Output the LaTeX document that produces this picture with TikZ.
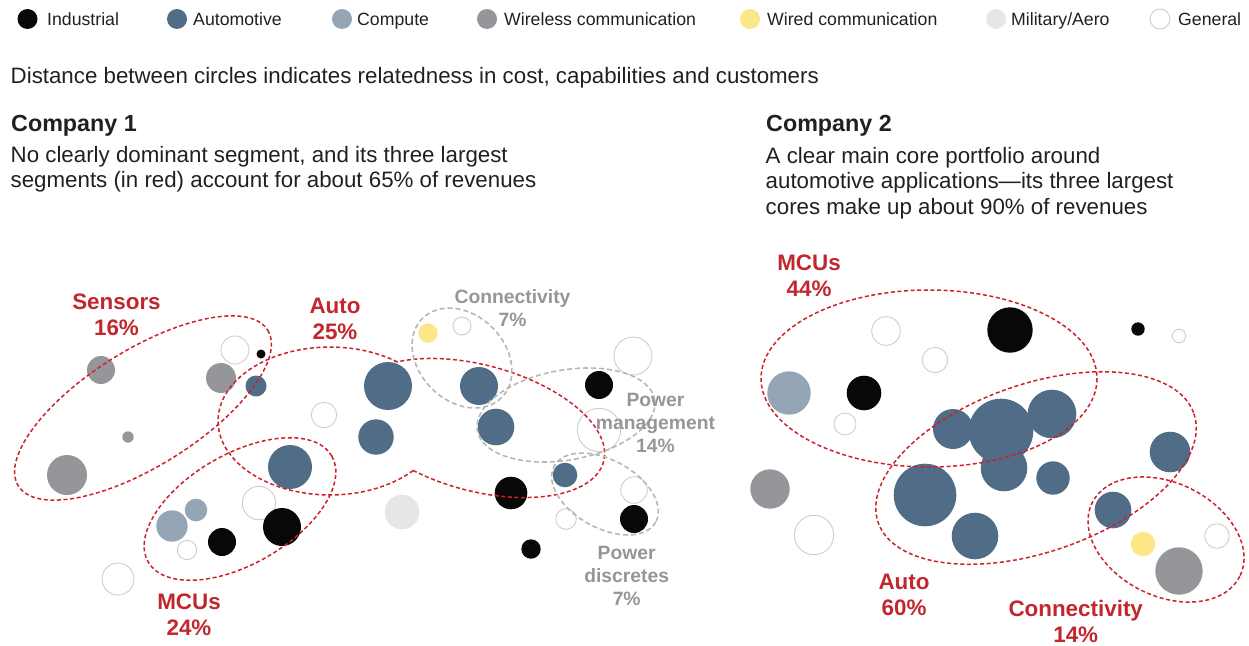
\documentclass[tikz,border=0pt]{standalone}
\usepackage{fontspec}
\setmainfont{Liberation Sans}
\usepackage{tikz}
\definecolor{industrialblack}{RGB}{8, 8, 8}
\definecolor{autoblue}{RGB}{81, 108, 134}
\definecolor{computeblue}{RGB}{148, 166, 182}
\definecolor{wirelessgray}{RGB}{149, 150, 154}
\definecolor{wiredyellow}{RGB}{252, 231, 136}
\definecolor{militarygray}{RGB}{229, 230, 232}
\definecolor{generalring}{RGB}{205, 205, 205}
\definecolor{corered}{RGB}{206, 32, 44}
\definecolor{labelred}{RGB}{193, 39, 45}
\definecolor{labelgray}{RGB}{150, 150, 152}
\definecolor{ringgray}{RGB}{182, 182, 182}
\definecolor{textdark}{RGB}{35, 31, 32}
\tikzstyle{redring} = [
    draw=corered,
    line width=1.5pt,
    dash pattern=on 4pt off 2.6pt
]
\tikzstyle{grayring} = [
    draw=ringgray,
    line width=1.6pt,
    dash pattern=on 5pt off 3pt
]
\tikzstyle{general} = [fill=white, draw=generalring, line width=0.9pt]
\tikzstyle{redlabel} = [text=labelred, font=\fontsize{22.4}{26}\selectfont\bfseries, align=center]
\tikzstyle{graylabel} = [text=labelgray, font=\fontsize{19.3}{23}\selectfont\bfseries, align=center]
\tikzstyle{legendtext} = [text=textdark, font=\fontsize{17.7}{21}\selectfont, anchor=base west, inner sep=0pt]
\tikzstyle{bodytext} = [text=textdark, font=\fontsize{22.3}{25.5}\selectfont, inner sep=0pt]
\tikzstyle{titletext} = [text=textdark, font=\fontsize{23.3}{26}\selectfont\bfseries, anchor=base west, inner sep=0pt]

\begin{document}
\begin{tikzpicture}[x=1pt, y=-1pt]
        \useasboundingbox (0,0) rectangle (1249,645);

        % Legend
        \fill[industrialblack] (27.5,19) circle (10);
        \node[legendtext] (lgind) at (47,25) {Industrial};
        \fill[autoblue] (177,19) circle (10);
        \node[legendtext] (lgauto) at (193,25) {Automotive};
        \fill[computeblue] (342,19) circle (10);
        \node[legendtext] (lgcomp) at (357,25) {Compute};
        \fill[wirelessgray] (487,19) circle (10);
        \node[legendtext] (lgwless) at (504,25) {Wireless communication};
        \fill[wiredyellow] (750,19) circle (10);
        \node[legendtext] (lgwired) at (767,25) {Wired communication};
        \fill[militarygray] (996,19) circle (10);
        \node[legendtext] (lgmil) at (1011,25) {Military/Aero};
        \draw[general] (1160,19) circle (10);
        \node[legendtext] (lggen) at (1178,25) {General};

        % Headings
        \node[bodytext, anchor=base west] (intro) at (10.5,83)
            {Distance between circles indicates relatedness in cost, capabilities and customers};
        \node[titletext] (co1) at (11,131.7) {Company 1};
        \node[bodytext, anchor=north west, align=left] (co1text) at (10.5,146)
            {No clearly dominant segment, and its three largest\\segments (in red) account for about 65\% of revenues};
        \node[titletext] (co2) at (766,131.7) {Company 2};
        \node[bodytext, anchor=north west, align=left] (co2text) at (765.5,147)
            {A clear main core portfolio around\\automotive applications---its three largest\\cores make up about 90\% of revenues};

        % Company 1: general
        \draw[general] (235,350) circle (14);
        \draw[general] (324,415) circle (12.7);
        \draw[general] (259,503) circle (16.7);
        \draw[general] (187,550) circle (9.7);
        \draw[general] (118,579) circle (16);
        \draw[general] (462,326) circle (9);
        \draw[general] (633,356) circle (19);
        \draw[general] (599,430) circle (21.7);
        \draw[general] (634,490) circle (13.3);
        \draw[general] (566,519) circle (10.3);

        % Company 1: wireless, wired, military
        \fill[wirelessgray] (101,370) circle (14);
        \fill[wirelessgray] (128,437) circle (5.7);
        \fill[wirelessgray] (67,475) circle (20);
        \fill[wirelessgray] (221,378) circle (15);
        \fill[wiredyellow] (428,333) circle (9.7);
        \fill[militarygray] (402,512) circle (17.3);

        % Company 1: compute
        \fill[computeblue] (196,510) circle (11.3);
        \fill[computeblue] (172,526) circle (15.7);

        % Company 1: industrial
        \fill[industrialblack] (261,354) circle (4.5);
        \fill[industrialblack] (282,527) circle (19);
        \fill[industrialblack] (222,542) circle (14);
        \fill[industrialblack] (599,385) circle (14);
        \fill[industrialblack] (511,493) circle (16.3);
        \fill[industrialblack] (634,519) circle (14);
        \fill[industrialblack] (531,549) circle (9.7);

        % Company 1: automotive
        \fill[autoblue] (256,386) circle (10.5);
        \fill[autoblue] (388,386) circle (24);
        \fill[autoblue] (376,437) circle (17.7);
        \fill[autoblue] (290,467) circle (22);
        \fill[autoblue] (479,386) circle (19);
        \fill[autoblue] (496,427) circle (18.3);
        \fill[autoblue] (565,475) circle (12.3);

        % Company 1: cores
        \draw[redring] (143,408) circle [x radius=147, y radius=58, rotate=32];
        \draw[redring] (240,509) circle [x radius=106, y radius=55, rotate=30];
        \draw[redring] plot[domain=53:318, samples=60] ({330+112*cos(\x)}, {421-74*sin(\x)})
            -- plot[domain=-114:137, samples=80]
               ({478+130*cos(\x)*0.966+63*sin(\x)*0.259}, {428+130*cos(\x)*0.259-63*sin(\x)*0.966})
            -- cycle;
        \draw[grayring] (462,358) circle [x radius=56, y radius=43, rotate=-45];
        \draw[grayring] (566,415) circle [x radius=90, y radius=45, rotate=10];
        \draw[grayring] (605,494) circle [x radius=58, y radius=34, rotate=-29];

        % Company 1: labels
        \node[redlabel] (sensorslbl) at (116.5,315) {Sensors\\16\%};
        \node[redlabel] (autolbl) at (335,318.5) {Auto\\25\%};
        \node[redlabel] (mcuslbl) at (189,615) {MCUs\\24\%};
        \node[graylabel] (connlbl) at (512.5,308) {Connectivity\\7\%};
        \node[graylabel] (powmglbl) at (655.5,422.5) {Power\\management\\14\%};
        \node[graylabel] (powdislbl) at (626.7,576) {Power\\discretes\\7\%};

        % Company 2: general
        \draw[general] (886,331) circle (14.3);
        \draw[general] (935,360) circle (12.7);
        \draw[general] (845,424) circle (11);
        \draw[general] (1179,336) circle (6.7);
        \draw[general] (1217,536) circle (12.3);
        \draw[general] (814,535) circle (19.7);

        % Company 2: other segments
        \fill[computeblue] (789,393) circle (21.7);
        \fill[industrialblack] (864,393) circle (17.3);
        \fill[industrialblack] (1010,330) circle (22.7);
        \fill[industrialblack] (1138,329) circle (6.7);
        \fill[wiredyellow] (1143,544) circle (12.3);
        \fill[wirelessgray] (1179,571) circle (23.7);
        \fill[wirelessgray] (770,489) circle (19.7);

        % Company 2: automotive
        \fill[autoblue] (953,429) circle (20);
        \fill[autoblue] (1004,468) circle (23.3);
        \fill[autoblue] (1053,478) circle (16.7);
        \fill[autoblue] (1052,414) circle (24.3);
        \fill[autoblue] (1001,431) circle (32.3);
        \fill[autoblue] (925,495) circle (31.3);
        \fill[autoblue] (975,536) circle (23.3);
        \fill[autoblue] (1170,452) circle (20.3);
        \fill[autoblue] (1113,510) circle (18.3);

        % Company 2: cores
        \draw[redring] (929,378.5) circle [x radius=168, y radius=88.5];
        \draw[redring] (1036,468) circle [x radius=167, y radius=84, rotate=19];
        \draw[redring] (1166,539.5) circle [x radius=82.5, y radius=56.5, rotate=-26.5];

        % Company 2: labels
        \node[redlabel] (mcus2lbl) at (809,276) {MCUs\\44\%};
        \node[redlabel] (auto2lbl) at (904,595) {Auto\\60\%};
        \node[redlabel] (conn2lbl) at (1075.7,621) {Connectivity\\14\%};
    \end{tikzpicture}
\end{document}
